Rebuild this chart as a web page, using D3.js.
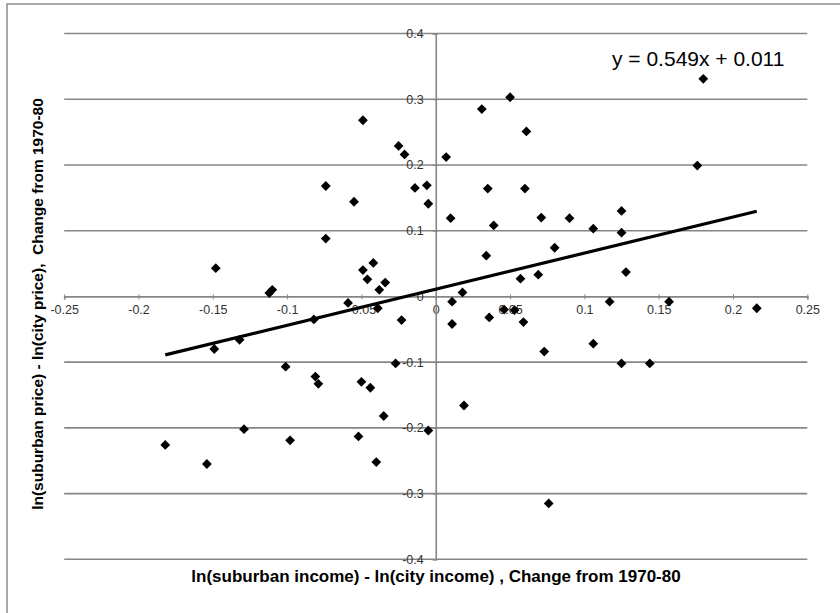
<!DOCTYPE html>
<html>
<head>
<meta charset="utf-8">
<script src="https://cdn.jsdelivr.net/npm/d3@7"></script>
<style>
  html, body { margin: 0; padding: 0; background: #fff; }
  svg { display: block; font-family: "Liberation Sans", Arial, sans-serif; }
</style>
</head>
<body>
<svg id="chart" width="840" height="613"></svg>
<script>
// ---- data ----
const xValues = [-0.148, -0.112, -0.110, -0.074, -0.074, -0.055, -0.049, -0.049, -0.046, -0.042,
  -0.038, -0.034, -0.059, -0.039, -0.082, -0.023, -0.025, -0.021, -0.014, -0.006,
  -0.005, 0.007, 0.010, 0.011, 0.011, 0.018, 0.031, 0.050, 0.061, 0.035,
  0.060, 0.039, 0.034, 0.071, 0.090, 0.106, 0.125, 0.125, 0.080, 0.069,
  0.057, 0.128, 0.117, 0.157, 0.216, 0.180, 0.176, 0.036, 0.046, 0.053,
  0.059, 0.073, 0.106, 0.125, 0.144, 0.076, 0.019, -0.005, -0.027, -0.035,
  -0.044, -0.050, -0.052, -0.040, -0.079, -0.081, -0.101, -0.098, -0.129, -0.132,
  -0.149, -0.182, -0.154];
const yValues = [0.043, 0.005, 0.010, 0.168, 0.088, 0.144, 0.268, 0.040, 0.026, 0.051,
  0.010, 0.021, -0.010, -0.018, -0.035, -0.036, 0.229, 0.216, 0.165, 0.169,
  0.141, 0.212, 0.119, -0.008, -0.042, 0.006, 0.285, 0.303, 0.251, 0.164,
  0.164, 0.108, 0.062, 0.120, 0.119, 0.103, 0.130, 0.097, 0.074, 0.033,
  0.027, 0.037, -0.008, -0.008, -0.018, 0.331, 0.199, -0.032, -0.020, -0.021,
  -0.039, -0.084, -0.072, -0.102, -0.102, -0.315, -0.166, -0.204, -0.102, -0.182,
  -0.139, -0.130, -0.213, -0.252, -0.133, -0.122, -0.107, -0.219, -0.202, -0.066,
  -0.080, -0.226, -0.255];
const xTicks = [-0.25, -0.2, -0.15, -0.1, -0.05, 0, 0.05, 0.1, 0.15, 0.2, 0.25];
const xTickLabels = ["-0.25", "-0.2", "-0.15", "-0.1", "-0.05", "0", "0.05", "0.1", "0.15", "0.2", "0.25"];
const yTicks = [-0.4, -0.3, -0.2, -0.1, 0, 0.1, 0.2, 0.3, 0.4];
const yTickLabels = ["-0.4", "-0.3", "-0.2", "-0.1", "0", "0.1", "0.2", "0.3", "0.4"];
const trendSlope = 0.549;
const trendIntercept = 0.011;
const equationText = "y = 0.549x + 0.011";
const xTitle = "ln(suburban income) - ln(city income) , Change from 1970-80";
const yTitle = "ln(suburban price) - ln(city price),  Change from 1970-80";

// ---- layout ----
const svg = d3.select("#chart");
const x = d3.scaleLinear().domain([-0.25, 0.25]).range([64.2, 807.3]);
const y = d3.scaleLinear().domain([-0.4, 0.4]).range([559.3, 33.5]);
const gridColor = "#868686";

// outer border (cut off at right/bottom like the reference)
svg.append("rect").attr("x", 7).attr("y", 4).attr("width", 900).attr("height", 700)
  .attr("fill", "none").attr("stroke", "#8c8c8c").attr("stroke-width", 1.5);

// horizontal gridlines
svg.append("g").selectAll("line").data(yTicks.filter(d => d !== 0)).join("line")
  .attr("x1", x(-0.25)).attr("x2", x(0.25))
  .attr("y1", d => y(d)).attr("y2", d => y(d))
  .attr("stroke", gridColor).attr("stroke-width", 1.6);

// x axis (at y = 0) using d3.axisBottom
const xAxis = d3.axisBottom(x).tickValues(xTicks)
  .tickFormat((d, i) => xTickLabels[i]).tickSize(3).tickPadding(6);
const gx = svg.append("g").attr("transform", `translate(0,${y(0)})`).call(xAxis);
gx.select(".domain").attr("stroke", gridColor).attr("stroke-width", 1.6);
gx.selectAll(".tick line").attr("stroke", gridColor).attr("y1", -2).attr("y2", 3);
gx.selectAll(".tick text").attr("fill", "#333").style("font-size", "12.5px")
  .style("font-family", "'Liberation Sans', Arial, sans-serif");

// y axis (at x = 0) using d3.axisLeft
const yAxis = d3.axisLeft(y).tickValues(yTicks)
  .tickFormat((d, i) => yTickLabels[i]).tickSize(3).tickPadding(9);
const gy = svg.append("g").attr("transform", `translate(${x(0)},0)`).call(yAxis);
gy.select(".domain").attr("stroke", gridColor).attr("stroke-width", 1.6);
gy.selectAll(".tick line").attr("stroke", gridColor).attr("x1", 2).attr("x2", -3);
gy.selectAll(".tick text").attr("fill", "#333").style("font-size", "12.5px")
  .style("font-family", "'Liberation Sans', Arial, sans-serif");

// points
const pts = xValues.map((v, i) => ({x: v, y: yValues[i]}));
const diamond = d3.symbol().type(d3.symbolSquare).size(48);
svg.append("g").selectAll("path").data(pts).join("path")
  .attr("d", diamond)
  .attr("transform", d => `translate(${x(d.x)},${y(d.y)}) rotate(45)`)
  .attr("fill", "#000");

// trendline
const [xmin, xmax] = d3.extent(xValues);
const trend = [xmin, xmax].map(v => ({x: v, y: trendSlope * v + trendIntercept}));
svg.append("path").datum(trend)
  .attr("d", d3.line().x(d => x(d.x)).y(d => y(d.y)))
  .attr("stroke", "#000").attr("stroke-width", 3.2).attr("fill", "none");

// equation
svg.append("text").attr("x", 612).attr("y", 66).attr("fill", "#000")
  .style("font-size", "21px").text(equationText);

// axis titles
svg.append("text").attr("x", 436).attr("y", 582).attr("text-anchor", "middle")
  .style("font-size", "17px").style("font-weight", "bold").attr("fill", "#000")
  .text(xTitle);
svg.append("text").attr("transform", "translate(43,304) rotate(-90)")
  .attr("text-anchor", "middle").style("white-space", "pre")
  .style("font-size", "15.5px").style("font-weight", "bold").attr("fill", "#000")
  .text(yTitle);
</script>
</body>
</html>
